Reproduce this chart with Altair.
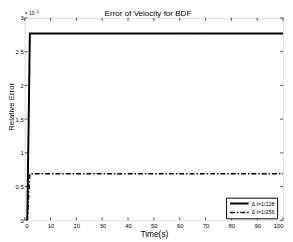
import altair as alt
import pandas as pd

# ---- data (error values in units of 1e-4) ----
time_128 = [1, 2, 100]
err_128 = [0, 2.77, 2.77]
time_256 = [1, 2, 100]
err_256 = [0, 0.69, 0.69]
series_labels = ["Δ t=1/128", "Δ t=1/256"]
x_ticks = [0, 10, 20, 30, 40, 50, 60, 70, 80, 90, 100]
y_ticks = [0, 0.5, 1, 1.5, 2, 2.5, 3]
title_text = "Error of Velocity for BDF"
x_title = "Time(s)"
y_title = "Relative Error"

W, H = 263, 206
FONT = "Liberation Sans"

df = pd.DataFrame({
    "t": time_128 + time_256,
    "err": err_128 + err_256,
    "series": [series_labels[0]] * len(time_128) + [series_labels[1]] * len(time_256),
})

x_scale = alt.Scale(domain=[0, 100], nice=False, zero=False)
y_scale = alt.Scale(domain=[0, 3], nice=False, zero=False)

x_axis = alt.Axis(values=x_ticks, title=x_title, grid=False, domain=False,
                  labelExpr="'' + datum.value",
                  tickSize=0, labelPadding=2, labelFontSize=6, labelFont=FONT,
                  labelColor="black", titleFont=FONT, titleFontSize=8.5,
                  titleFontWeight="normal", titleColor="black",
                  titleY=10, titleBaseline="top")
y_axis = alt.Axis(values=y_ticks, title=y_title, grid=False, domain=False,
                  labelExpr="'' + datum.value",
                  tickSize=0, labelPadding=1.5, labelFontSize=6, labelFont=FONT,
                  labelColor="black", titleFont=FONT, titleFontSize=8,
                  titleFontWeight="normal", titleColor="black",
                  titleX=-11.5, titleY=90, titleBaseline="alphabetic")

legend = alt.Legend(
    title=None, orient="none", legendX=205, legendY=183,
    labelFont=FONT, labelFontSize=5.5, labelColor="black",
    symbolType="M-0.667,0H5.667", symbolSize=36, symbolStrokeColor="black",
    padding=2, rowPadding=1, labelOffset=16,
    strokeColor="black", fillColor="white", cornerRadius=0,
)

lines = alt.Chart(df).mark_line(color="black", clip=True).encode(
    x=alt.X("t:Q", scale=x_scale, axis=x_axis),
    y=alt.Y("err:Q", scale=y_scale, axis=y_axis),
    strokeDash=alt.StrokeDash("series:N",
                              scale=alt.Scale(domain=series_labels, range=[[1, 0], [5, 2, 1.5, 2]]),
                              legend=legend),
    strokeWidth=alt.StrokeWidth("series:N",
                                scale=alt.Scale(domain=series_labels, range=[2, 1.5]),
                                legend=legend),
)

xt = pd.DataFrame({"t": x_ticks})
yt = pd.DataFrame({"err": y_ticks})
tick_style = dict(color="black", strokeWidth=0.7)
bottom_ticks = alt.Chart(xt).mark_rule(**tick_style).encode(
    x=alt.X("t:Q", scale=x_scale, axis=x_axis), y=alt.value(H), y2=alt.value(H - 3))
top_ticks = alt.Chart(xt).mark_rule(**tick_style).encode(
    x=alt.X("t:Q", scale=x_scale, axis=x_axis), y=alt.value(0), y2=alt.value(3))
left_ticks = alt.Chart(yt).mark_rule(**tick_style).encode(
    y=alt.Y("err:Q", scale=y_scale, axis=y_axis), x=alt.value(0), x2=alt.value(3))
right_ticks = alt.Chart(yt).mark_rule(**tick_style).encode(
    y=alt.Y("err:Q", scale=y_scale, axis=y_axis), x=alt.value(W), x2=alt.value(W - 3))

title_mark = alt.Chart(pd.DataFrame({"s": [title_text]})).mark_text(
    font=FONT, fontSize=8.2, align="center", baseline="alphabetic", color="black"
).encode(x=alt.value(W / 2 - 6), y=alt.value(-2), text="s:N")
exp_base = alt.Chart(pd.DataFrame({"s": ["× 10"]})).mark_text(
    font=FONT, fontSize=5, align="left", baseline="bottom", color="black"
).encode(x=alt.value(0), y=alt.value(-2), text="s:N")
exp_pow = alt.Chart(pd.DataFrame({"s": ["-4"]})).mark_text(
    font=FONT, fontSize=3.5, align="left", baseline="bottom", color="black"
).encode(x=alt.value(11), y=alt.value(-4), text="s:N")

chart = alt.layer(
    lines, bottom_ticks, top_ticks, left_ticks, right_ticks, title_mark, exp_base, exp_pow
).properties(
    width=W, height=H,
    autosize=alt.AutoSizeParams(type="none"),
    padding={"left": 17, "top": 8, "right": 2, "bottom": 20},
).configure_view(
    stroke="black", strokeWidth=1
).configure(background="white")

chart.save("out.html", embed_options={"renderer": "svg", "actions": False})
